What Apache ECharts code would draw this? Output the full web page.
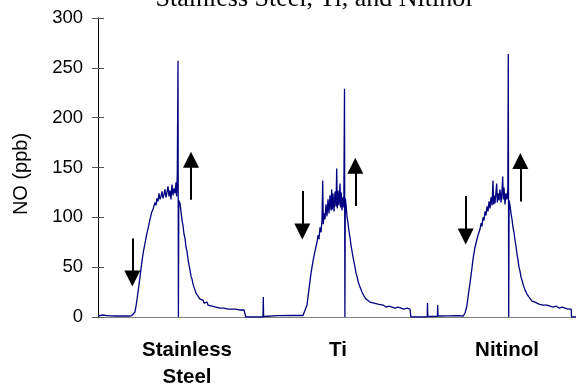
<!DOCTYPE html>
<html>
<head>
<meta charset="utf-8">
<script src="https://cdn.jsdelivr.net/npm/echarts@6/dist/echarts.min.js"></script>
<style>
html,body{margin:0;padding:0;background:#fff;}
#chart{width:576px;height:385px;}
</style>
</head>
<body>
<div id="chart"></div>
<script>
// Title and axis text
const chartTitle = 'Stainless Steel, Ti, and Nitinol';
const yAxisTitle = 'NO (ppb)';
const categories = ['Stainless\nSteel', 'Ti', 'Nitinol'];
const categoryPos = [89, 240, 409];        // position of each label along the run-time axis
const yTicks = [0, 50, 100, 150, 200, 250, 300];

// NO trace, [run time, NO ppb]
const ssTrace = [
  [0,1],[2,1.5],[4,2],[5,3.5],[6,2.5],[8,1.5],[12,1.2],[18,1],[25,1.1],[31,1],[33.7,1.3],
  [35,3],[37,5],[38.5,14],[40.3,27],[42,40],[43.7,54],[45.3,65],[47,74],[48.7,83],[50.3,90],
  [52,98],[53.7,105],[55,108],[56,110],[57,115],[58,112],[59,119],[60,116],[61,124],[62,118],
  [63,121],[64,126],[65,119],[66,123],[67,128],[68,120],[69,125],[70,131],[71,121],[72,127],
  [73,118],[74,133],[75,122],[76,129],[77,124],[78,135],[78.6,121],[79.3,144],[80,257],[80.4,0],
  [80.8,117],[82,114],[83,106],[84,97],[85,92],[86,83],[87,79],[88,70],[89,66],[90,58],[91,52],
  [92,47],[93,41],[94,38],[95,33],[96,30],[97,28],[98,24],[99,23],[100,21],[101,20],[102,18],
  [103,19],[104,16],[105,17],[106,14],[107,16],[108,13],[109,15],[110,12],[112,13],[114,11],
  [116,12],[118,10],[120,11],[122,9],[124,10],[126,9],[128,10],[130,8],[132,9],[134,8],[136,9],
  [138,8],[140,8],[142,7],[144,8],[146,7],[147.5,7],[147.8,0],[165,0],[165.3,20],[165.6,0.5],
  [166,1.5],[180,1.3],[195,1.5]
];
const tiTrace = [
  [205,1.5],[207,3],[209,12],[211,28],[213,44],[215,56],[217,66],[219,75],[220,82],[221,78],
  [222,90],[223,85],[224,97],[224.7,137],[225.3,93],[226,104],[227,98],[228,113],[229,101],
  [230,118],[231,104],[232,122],[233,107],[233.7,128],[234.3,108],[235,124],[236,106],[237,126],
  [238,111],[238.7,149],[239.3,109],[240,127],[241,112],[242,134],[242.7,110],[243.3,125],
  [244,107],[245,120],[245.8,110],[246.5,229],[246.9,0],[247.3,119],[248,113],[249,101],[250,94],
  [251,86],[252,80],[253,72],[254,66],[255,60],[256,55],[257,50],[258,44],[259,41],[260,36],
  [261,34],[262,30],[263,28],[264,25],[265,24],[266,21],[267,20],[268,18],[269,17],[270,16],
  [272,15],[274,13],[276,14],[278,12],[280,13],[282,11],[285,12],[288,10],[291,11],[294,10],
  [297,9],[300,10],[303,9],[306,8],[309,9],[312,8],[312.6,8],[312.9,0],[329.2,0],[329.5,14],
  [329.8,0.5],[339.4,0.7],[339.7,12],[340,1],[350,1.2],[360,1.3]
];
const niTrace = [
  [365.3,1],[367,4],[368.7,10],[370.3,22],[372,34],[373.7,47],[375.3,60],[377,70],[378.7,77],
  [380.3,83],[382,88],[383,94],[384,91],[385,100],[386,97],[387,106],[388,102],[389,111],
  [390,106],[391,116],[392,109],[393,120],[394,112],[395,137],[395.6,113],[396,122],[397,114],
  [398,126],[398.7,134],[399.3,115],[400,124],[401,117],[402,128],[403,115],[404,126],[404.7,141],
  [405.3,118],[406,130],[407,113],[408,124],[409,118],[409.8,127],[410.3,264],[410.7,0],
  [411.1,117],[412,112],[413,104],[414,98],[415,90],[416,85],[417,77],[418,71],[419,63],[420,57],
  [421,50],[422,46],[423,40],[424,37],[425,33],[426,30],[427,27],[428,25],[429,23],[430,21],
  [431,20],[432,18],[433,19],[434,16],[435,17],[437,15],[439,14],[441,13],[443,14],[445,12],
  [447,11],[449,12],[452,11],[455,10],[458,11],[461,9],[464,10],[467,9],[470,8],[472,9],
  [473.2,8],[473.5,0],[478,0]
];

// Arrow annotations: [run time, tail NO, head NO]
const downArrows = [[34.3, 78.7, 38.7], [204.3, 126.3, 85.7], [367.7, 121.3, 80.8]];
const upArrows = [[93, 117.7, 157.8], [257.3, 111.3, 151.7], [422.3, 116, 156.5]];

const trace = ssTrace.concat(tiTrace, niTrace);
const arrowLines = downArrows.concat(upArrows).map(a => [{coord: [a[0], a[1]]}, {coord: [a[0], a[2]]}]);

const chart = echarts.init(document.getElementById('chart'), null, {renderer: 'canvas'});
chart.setOption({
  animation: false,
  backgroundColor: '#fff',
  grid: {left: 98, right: 0, top: 18, bottom: 68, containLabel: false, outerBoundsMode: 'none'},
  xAxis: {
    type: 'value', min: 0, max: 478,
    axisLine: {show: true, onZero: true, lineStyle: {color: '#808080', width: 1}},
    axisTick: {show: false},
    splitLine: {show: false},
    axisLabel: {
      customValues: categoryPos,
      formatter: function (v) { const i = categoryPos.indexOf(v); return i >= 0 ? categories[i] : ''; },
      fontFamily: 'Liberation Sans', fontWeight: 'bold', fontSize: 20.5, color: '#000',
      lineHeight: 27, margin: 20
    }
  },
  yAxis: [{
    type: 'value', min: 0, max: 300, interval: 50, position: 'left',
    axisLine: {show: true, lineStyle: {color: '#000', width: 1}},
    axisTick: {show: true, inside: false, length: 6, lineStyle: {color: '#555'}},
    splitLine: {show: false},
    axisLabel: {fontFamily: 'Liberation Sans', fontSize: 18.5, color: '#000', margin: 15,
      formatter: function (v) { return yTicks.indexOf(v) >= 0 ? String(v) : ''; }}
  }, {
    type: 'value', min: 0, max: 300, interval: 50, position: 'left', offset: 0,
    axisLine: {show: false},
    axisTick: {show: true, inside: true, length: 6, lineStyle: {color: '#555'}},
    axisLabel: {show: false},
    splitLine: {show: false}
  }],
  graphic: [{
    type: 'text', x: 314, y: -14,
    style: {text: chartTitle, fill: '#000', font: '26px "Liberation Serif"', textAlign: 'center', textVerticalAlign: 'top'}
  }, {
    type: 'text', x: 21, y: 174, rotation: Math.PI / 2,
    style: {text: yAxisTitle, fill: '#000', font: '20px "Liberation Sans"', textAlign: 'center', textVerticalAlign: 'middle'}
  }],
  series: [{
    type: 'line', data: trace, yAxisIndex: 0,
    showSymbol: false, symbol: 'none',
    lineStyle: {color: '#000080', width: 1.3},
    markLine: {
      silent: true, animation: false,
      symbol: ['none', 'triangle'], symbolSize: 16,
      lineStyle: {color: '#000', width: 2, type: 'solid'},
      label: {show: false},
      data: arrowLines
    }
  }]
});
</script>
</body>
</html>
